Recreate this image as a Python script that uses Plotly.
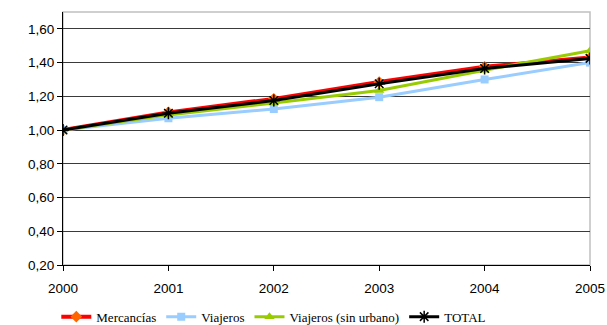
import plotly.graph_objects as go

years = [2000, 2001, 2002, 2003, 2004, 2005]
mercancias = [1.00, 1.105, 1.185, 1.285, 1.375, 1.43]
viajeros = [1.00, 1.07, 1.125, 1.195, 1.30, 1.40]
viajeros_sin_urbano = [1.00, 1.09, 1.16, 1.235, 1.355, 1.47]
total = [1.00, 1.10, 1.175, 1.275, 1.365, 1.425]
y_ticks = [0.2, 0.4, 0.6, 0.8, 1.0, 1.2, 1.4, 1.6]

fig = go.Figure()

fig.add_trace(go.Scatter(
    x=years, y=mercancias, name="Mercancías", mode="lines+markers",
    line=dict(color="#FF0000", width=4),
    marker=dict(symbol="diamond", size=9, color="#FF6600"),
))
fig.add_trace(go.Scatter(
    x=years, y=viajeros, name="Viajeros", mode="lines+markers",
    line=dict(color="#99CCFF", width=3),
    marker=dict(symbol="square", size=8, color="#99CCFF"),
))
fig.add_trace(go.Scatter(
    x=years, y=viajeros_sin_urbano, name="Viajeros (sin urbano)", mode="lines+markers",
    line=dict(color="#99CC00", width=3),
    marker=dict(symbol="triangle-up", size=9, color="#99CC00"),
))
fig.add_trace(go.Scatter(
    x=years, y=total, name="TOTAL", mode="lines+markers",
    line=dict(color="#000000", width=3),
    marker=dict(symbol="asterisk-open", size=10, color="#000000",
                line=dict(color="#000000", width=1.5)),
))

# light grey frame around the plotting area (top and right edges)
fig.add_shape(type="rect", xref="paper", yref="paper", x0=0, x1=1, y0=0, y1=1,
              line=dict(color="#C0C0C0", width=1.5), layer="below")

fig.update_layout(
    width=607, height=325,
    margin=dict(l=63, r=17, t=12, b=60, autoexpand=False),
    paper_bgcolor="white", plot_bgcolor="white",
    separators=", ",
    font=dict(family="Liberation Sans, Arial, sans-serif", size=13.5, color="#000000"),
    showlegend=True,
    legend=dict(
        orientation="h", x=0.40, xanchor="center", y=-0.145, yanchor="top",
        font=dict(family="Liberation Serif, Times New Roman, serif", size=13),
        tracegroupgap=0, bgcolor="rgba(0,0,0,0)",
    ),
    xaxis=dict(
        range=[2000, 2005], tickvals=years, ticktext=[str(y) for y in years],
        showgrid=False, zeroline=False,
        showline=True, linecolor="#000000", linewidth=1,
        ticks="outside", ticklen=5, tickcolor="#000000",
        ticklabelstandoff=6,
    ),
    yaxis=dict(
        range=[0.2, 1.7], tickvals=y_ticks, tickformat=".2f",
        showgrid=True, gridcolor="#3A3A3A", gridwidth=1, zeroline=False,
        showline=True, linecolor="#000000", linewidth=1,
        ticks="outside", ticklen=5, tickcolor="#000000",
    ),
)

fig.write_html("out.html")
